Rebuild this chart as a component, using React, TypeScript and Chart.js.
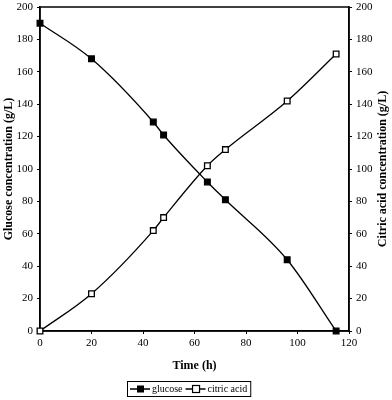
import React, { useEffect, useRef } from "react";
import { Chart, registerables } from "chart.js";

Chart.register(...registerables);

const timeH = [0, 20, 44, 48, 65, 72, 96, 115];
const glucose = [190, 168, 129, 121, 92, 81, 44, 0];
const citricAcid = [0, 23, 62, 70, 102, 112, 142, 171];
const xTicks = [0, 20, 40, 60, 80, 100, 120];
const yTicks = [0, 20, 40, 60, 80, 100, 120, 140, 160, 180, 200];

const SERIF = "'Liberation Serif', 'Times New Roman', serif";

const framePlugin = {
  id: "frame",
  beforeDatasetsDraw(chart: any) {
    const { ctx, chartArea } = chart;
    ctx.save();
    ctx.strokeStyle = "#000";
    ctx.lineWidth = 1.5;
    ctx.strokeRect(chartArea.left, chartArea.top, chartArea.right - chartArea.left, chartArea.bottom - chartArea.top);
    ctx.restore();
  },
  afterDraw(chart: any) {
    const { ctx, chartArea } = chart;
    ctx.save();
    // right axis title
    ctx.font = `bold 12px ${SERIF}`;
    ctx.fillStyle = "#000";
    ctx.textAlign = "center";
    ctx.textBaseline = "middle";
    ctx.translate(383, (chartArea.top + chartArea.bottom) / 2);
    ctx.rotate(-Math.PI / 2);
    ctx.fillText("Citric acid concentration (g/L)", 0, 0);
    ctx.restore();

    // legend
    ctx.save();
    const by = 381, bh = 15;
    const cy = by + bh / 2 + 0.5;
    ctx.font = `10px ${SERIF}`;
    ctx.fillStyle = "#000";
    ctx.textBaseline = "middle";
    ctx.textAlign = "left";
    const item = (x0: number, filled: boolean, label: string) => {
      ctx.beginPath();
      ctx.strokeStyle = "#000";
      ctx.lineWidth = 1.5;
      ctx.moveTo(x0, cy);
      ctx.lineTo(x0 + 20, cy);
      ctx.stroke();
      if (filled) {
        ctx.fillStyle = "#000";
        ctx.fillRect(x0 + 7, cy - 3.5, 7, 7);
      } else {
        ctx.fillStyle = "#fff";
        ctx.fillRect(x0 + 7, cy - 3.5, 7, 7);
        ctx.lineWidth = 1.2;
        ctx.strokeRect(x0 + 7, cy - 3.5, 7, 7);
      }
      ctx.fillStyle = "#000";
      ctx.fillText(label, x0 + 22, cy);
      return x0 + 22 + ctx.measureText(label).width;
    };
    const startX = 130;
    const end1 = item(startX, true, "glucose");
    const end2 = item(end1 + 3, false, "citric acid");
    ctx.lineWidth = 1;
    ctx.strokeStyle = "#000";
    ctx.strokeRect(startX - 3 + 0.5, by + 0.5, end2 + 3 - (startX - 3), bh);
    ctx.restore();
  },
};

const noPad = (s: any) => { s.paddingTop = 0; s.paddingBottom = 0; };

export default function App() {
  const ref = useRef<HTMLCanvasElement>(null);
  useEffect(() => {
    document.body.style.margin = "0";
    const canvas = ref.current!;
    const tickFont = { family: SERIF, size: 11 };
    const chart = new Chart(canvas, {
      type: "line",
      data: {
        datasets: [
          {
            label: "glucose",
            data: timeH.map((t, i) => ({ x: t, y: glucose[i] })),
            borderColor: "#000",
            borderWidth: 1.3,
            backgroundColor: "#000",
            pointStyle: "rect",
            pointRadius: 4,
            pointBorderColor: "#000",
            pointBackgroundColor: "#000",
            cubicInterpolationMode: "monotone",
            clip: false,
            yAxisID: "y",
          },
          {
            label: "citric acid",
            data: timeH.map((t, i) => ({ x: t, y: citricAcid[i] })),
            borderColor: "#000",
            borderWidth: 1.3,
            backgroundColor: "#fff",
            pointStyle: "rect",
            pointRadius: 4,
            pointBorderWidth: 1.3,
            pointBorderColor: "#000",
            pointBackgroundColor: "#fff",
            cubicInterpolationMode: "monotone",
            clip: false,
            yAxisID: "y1",
          },
        ],
      },
      options: {
        animation: false,
        responsive: false,
        layout: { padding: { top: 7, bottom: 27, left: 0, right: 0 } },
        plugins: { legend: { display: false }, tooltip: { enabled: false } },
        scales: {
          x: {
            type: "linear",
            min: 0,
            max: 120,
            afterBuildTicks: (s: any) => { s.ticks = xTicks.map((v) => ({ value: v })); },
            afterFit: (s: any) => { s.height = 42; },
            border: { color: "#000", width: 1.5 },
            grid: { display: true, drawOnChartArea: false, drawTicks: true, tickLength: 3, color: "#000" },
            ticks: { color: "#000", font: tickFont, padding: 3, maxRotation: 0 },
            title: { display: true, text: "Time (h)", color: "#000", font: { family: SERIF, size: 12, weight: "bold" }, padding: 0 },
          },
          y: {
            position: "left",
            min: 0,
            max: 200,
            afterBuildTicks: (s: any) => { s.ticks = yTicks.map((v) => ({ value: v })); },
            afterFit: (s: any) => { s.width = 40; noPad(s); },
            border: { color: "#000", width: 1.5 },
            grid: { display: true, drawOnChartArea: false, drawTicks: true, tickLength: 3, color: "#000" },
            ticks: { color: "#000", font: tickFont, padding: 4 },
            title: { display: true, text: "Glucose concentration (g/L)", color: "#000", font: { family: SERIF, size: 12, weight: "bold" }, padding: { top: 2, bottom: 0 } },
          },
          y1: {
            position: "right",
            min: 0,
            max: 200,
            afterBuildTicks: (s: any) => { s.ticks = yTicks.map((v) => ({ value: v })); },
            afterFit: (s: any) => { s.width = 43; noPad(s); },
            border: { color: "#000", width: 1.5 },
            grid: { display: true, drawOnChartArea: false, drawTicks: true, tickLength: 3, color: "#000" },
            ticks: { color: "#000", font: tickFont, padding: 4 },
          },
        },
      } as any,
      plugins: [framePlugin],
    });
    return () => chart.destroy();
  }, []);
  return (
    <div style={{ width: 392, height: 400, background: "#fff" }}>
      <canvas ref={ref} width={392} height={400} style={{ display: "block" }} />
    </div>
  );
}
